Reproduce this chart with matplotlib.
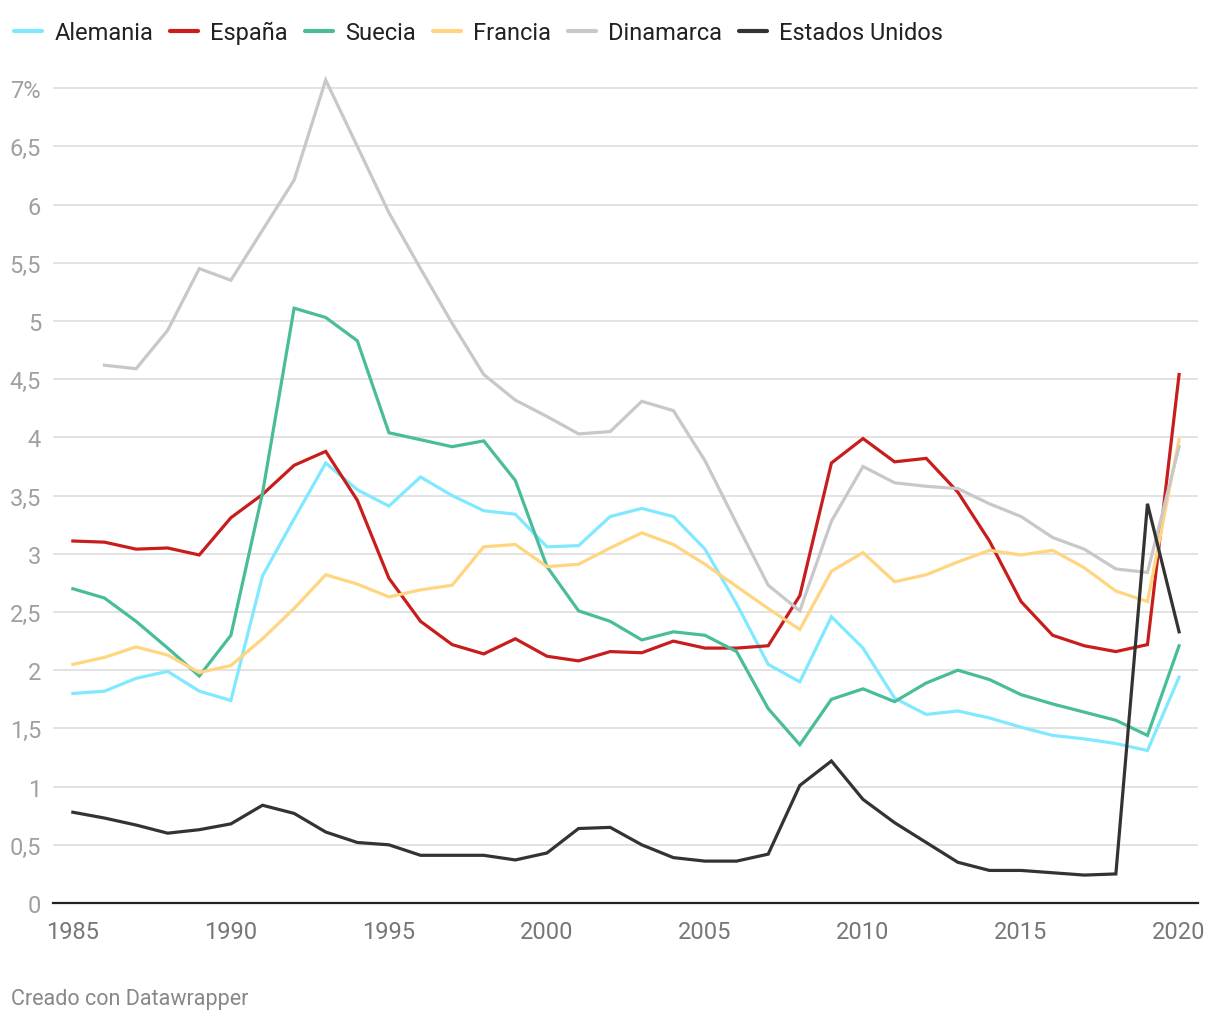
import matplotlib.pyplot as plt
from matplotlib.ticker import FixedLocator

plt.rcParams['font.family'] = ['Roboto', 'DejaVu Sans']

years = list(range(1985, 2021))

alemania = [1.80, 1.82, 1.93, 1.99, 1.82, 1.74, 2.81, 3.30, 3.78, 3.55,
            3.41, 3.66, 3.50, 3.37, 3.34, 3.06, 3.07, 3.32, 3.39, 3.32,
            3.04, 2.57, 2.05, 1.90, 2.46, 2.19, 1.76, 1.62, 1.65, 1.59,
            1.51, 1.44, 1.41, 1.37, 1.31, 1.94]
espana = [3.11, 3.10, 3.04, 3.05, 2.99, 3.31, 3.51, 3.76, 3.88, 3.46,
          2.79, 2.42, 2.22, 2.14, 2.27, 2.12, 2.08, 2.16, 2.15, 2.25,
          2.19, 2.19, 2.21, 2.64, 3.78, 3.99, 3.79, 3.82, 3.53, 3.11,
          2.59, 2.30, 2.21, 2.16, 2.22, 4.54]
suecia = [2.70, 2.62, 2.42, 2.19, 1.95, 2.30, 3.52, 5.11, 5.03, 4.83,
          4.04, 3.98, 3.92, 3.97, 3.63, 2.89, 2.51, 2.42, 2.26, 2.33,
          2.30, 2.16, 1.67, 1.36, 1.75, 1.84, 1.73, 1.89, 2.00, 1.92,
          1.79, 1.71, 1.64, 1.57, 1.44, 2.21]
francia = [2.05, 2.11, 2.20, 2.13, 1.98, 2.04, 2.27, 2.53, 2.82, 2.74,
           2.63, 2.69, 2.73, 3.06, 3.08, 2.89, 2.91, 3.05, 3.18, 3.08,
           2.91, 2.72, 2.53, 2.35, 2.85, 3.01, 2.76, 2.82, 2.93, 3.03,
           2.99, 3.03, 2.88, 2.68, 2.59, 3.98]
# Dinamarca has no value for 1985
dinamarca = [None, 4.62, 4.59, 4.92, 5.45, 5.35, 5.78, 6.21, 7.07, 6.50,
             5.93, 5.45, 4.98, 4.54, 4.32, 4.18, 4.03, 4.05, 4.31, 4.23,
             3.80, 3.26, 2.73, 2.51, 3.28, 3.75, 3.61, 3.58, 3.56, 3.43,
             3.32, 3.14, 3.04, 2.87, 2.84, 3.92]
eeuu = [0.78, 0.73, 0.67, 0.60, 0.63, 0.68, 0.84, 0.77, 0.61, 0.52,
        0.50, 0.41, 0.41, 0.41, 0.37, 0.43, 0.64, 0.65, 0.50, 0.39,
        0.36, 0.36, 0.42, 1.01, 1.22, 0.89, 0.69, 0.52, 0.35, 0.28,
        0.28, 0.26, 0.24, 0.25, 3.43, 2.33]

series = [
    ("Alemania", alemania, "#80e9ff"),
    ("España", espana, "#c71e1d"),
    ("Suecia", suecia, "#48bd98"),
    ("Francia", francia, "#ffd580"),
    ("Dinamarca", dinamarca, "#c8c8c8"),
    ("Estados Unidos", eeuu, "#333333"),
]

y_ticks = [0, 0.5, 1, 1.5, 2, 2.5, 3, 3.5, 4, 4.5, 5, 5.5, 6, 6.5, 7]
y_labels = ["0", "0,5", "1", "1,5", "2", "2,5", "3", "3,5", "4", "4,5",
            "5", "5,5", "6", "6,5", "7%"]
x_ticks = [1985, 1990, 1995, 2000, 2005, 2010, 2015, 2020]

fig = plt.figure(figsize=(12.2, 10.2), dpi=100)
ax = fig.add_axes([0.0434, 0.1137, 0.9386, 0.816])

for name, vals, col in series:
    xs = [y for y, v in zip(years, vals) if v is not None]
    vs = [v for v in vals if v is not None]
    ax.plot(xs, vs, color=col, lw=2.3, label=name, solid_joinstyle='miter')

ax.set_xlim(1984.37, 2020.6)
ax.set_ylim(0, 7.15)

ax.yaxis.set_major_locator(FixedLocator(y_ticks))
ax.set_yticklabels(y_labels)
ax.xaxis.set_major_locator(FixedLocator(x_ticks))
ax.set_xticklabels([str(x) for x in x_ticks])

ax.grid(axis='y', color='#e3e3e3', lw=1.4)
ax.set_axisbelow(True)
for s in ['top', 'right', 'left']:
    ax.spines[s].set_visible(False)
ax.spines['bottom'].set_color('#222222')
ax.spines['bottom'].set_linewidth(1.6)

ax.tick_params(axis='y', length=0, pad=8.5, labelsize=17, labelcolor='#a0a0a0')
ax.tick_params(axis='x', length=0, pad=12, labelsize=17, labelcolor='#777777')

leg = fig.legend(loc='upper left', bbox_to_anchor=(0.0115, 0.9784), ncol=6, frameon=False,
                 fontsize=17, handlelength=1.2, handletextpad=0.5, columnspacing=0.72,
                 borderpad=0, borderaxespad=0, labelcolor='#222222')
for h in leg.legend_handles:
    h.set_linewidth(3)
    h.set_solid_capstyle('round')

fig.text(0.009, 0.0205, "Creado con Datawrapper", fontsize=15.5, color='#888888',
         ha='left', va='center')

plt.savefig("out.png", dpi=100)
